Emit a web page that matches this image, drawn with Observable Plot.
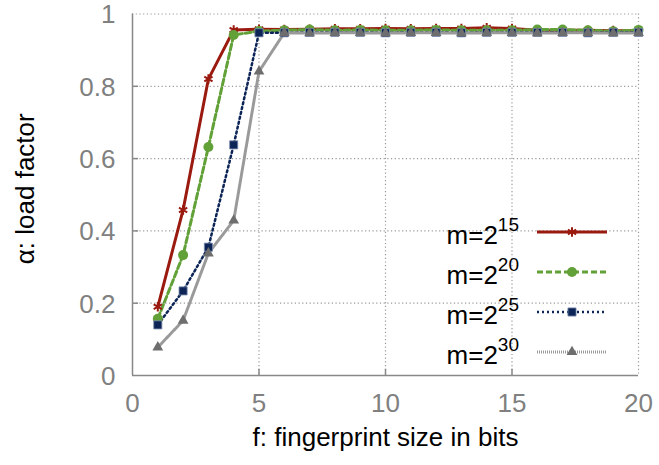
<!DOCTYPE html>
<html><head><meta charset="utf-8">
<script src="https://cdn.jsdelivr.net/npm/d3@7"></script>
<script src="https://cdn.jsdelivr.net/npm/@observablehq/plot@0.6"></script>
<style>
body{margin:0;background:#fff;font-family:"Liberation Sans",Arial,Helvetica,sans-serif;}
#wrap{position:relative;width:659px;height:465px;}
#legend{position:absolute;left:399px;top:212px;}
.row{display:flex;align-items:center;height:40px;}
.lab{width:120px;text-align:right;font-size:26px;color:#000;line-height:26px;padding-top:8px;}
.lab sup{font-size:19px;vertical-align:0;position:relative;top:-13px;}
.row svg{margin-left:17px;}
</style></head>
<body><div id="wrap"><div id="legend"></div></div>
<script>
const f = [1,2,3,4,5,6,7,8,9,10,11,12,13,14,15,16,17,18,19,20];
const m15 = [0.19,0.458,0.82,0.956,0.958,0.957,0.958,0.959,0.959,0.96,0.959,0.96,0.96,0.962,0.96,0.955,0.955,0.955,0.954,0.954];
const m20 = [0.157,0.333,0.632,0.942,0.953,0.955,0.957,0.955,0.956,0.955,0.955,0.956,0.955,0.955,0.955,0.957,0.957,0.955,0.952,0.956];
const m25 = [0.140,0.234,0.355,0.638,0.948,0.948,0.949,0.949,0.949,0.948,0.949,0.949,0.948,0.949,0.949,0.949,0.949,0.948,0.949,0.949];
const m30 = [0.078,0.152,0.338,0.429,0.841,0.948,0.947,0.948,0.948,0.947,0.948,0.948,0.947,0.948,0.948,0.947,0.948,0.948,0.947,0.948];
const seriesNames = ["15","20","25","30"];
const xTicks = [0,5,10,15,20];
const yTicks = [0,0.2,0.4,0.6,0.8,1];

const styles = [
  {color:"#9a1a0f", dash:null, width:3, symbol:"asterisk", r:4.5, fill:false, stroke:"#9a1a0f"},
  {color:"#62a038", dash:"6,3", width:3, symbol:"circle", r:5, fill:true, stroke:"none"},
  {color:"#0c2456", dash:"2,3", width:2.5, symbol:"square", r:4.6, fill:true, stroke:"#8090b0"},
  {color:"#9a9a9a", dash:"1,1", width:3, symbol:"triangle", r:4, fill:true, stroke:"none", mcolor:"#6e6e6e"}
];
const vals = [m15,m20,m25,m30];
const rows = [];
vals.forEach((v,i)=>v.forEach((y,j)=>rows.push({f:f[j], a:y, s:i})));

const dotted = {stroke:"#999", strokeOpacity:1, strokeWidth:1.2, strokeDasharray:"1.2,2.5"};
const marks = [
  Plot.gridX([5,10,15], dotted),
  Plot.gridY([0.2,0.4,0.6,0.8], dotted),
  Plot.ruleY([1], dotted),
  Plot.ruleX([20], dotted),
  Plot.ruleX([5,10,15], {y1:0, y2:0.017, stroke:"#888", strokeWidth:1.5}),
  Plot.ruleY([0.2,0.4,0.6,0.8], {x1:0, x2:0.24, stroke:"#888", strokeWidth:1.5}),
  Plot.ruleX([0], {stroke:"#888", strokeWidth:1.5}),
  Plot.ruleY([0], {stroke:"#888", strokeWidth:1.5}),
  Plot.axisX(xTicks, {tickSize:0, tickPadding:18, fontSize:26, color:"#808080", label:null}),
  Plot.axisY(yTicks, {tickSize:0, tickPadding:17, dy:1, fontSize:26, color:"#808080", label:null, tickFormat:d=>String(d)}),
  Plot.text(["f: fingerprint size in bits"], {frameAnchor:"bottom", dx:0, dy:70, fontSize:26, fill:"#000", textAnchor:"middle"}),
  Plot.text(["α: load factor"], {frameAnchor:"left", dx:-107, dy:-6, rotate:-90, fontSize:26, fill:"#000", textAnchor:"middle"})
];
styles.forEach((st,i)=>{
  const d = rows.filter(r=>r.s===i);
  marks.push(Plot.line(d, {x:"f", y:"a", stroke:st.color, strokeWidth:st.width, strokeDasharray:st.dash}));
});
styles.forEach((st,i)=>{
  const d = rows.filter(r=>r.s===i);
  const mc = st.mcolor || st.color;
  marks.push(Plot.dot(d, {x:"f", y:"a", symbol:()=>st.symbol, r:st.r,
    fill: st.fill ? mc : "none", stroke: st.fill ? st.stroke : mc, strokeWidth: st.fill ? 0.8 : 2}));
});

const chart = Plot.plot({
  width:659, height:465,
  marginLeft:132, marginRight:21, marginTop:13.5, marginBottom:90,
  style:{fontFamily:'"Liberation Sans",Arial,Helvetica,sans-serif', background:"#fff"},
  x:{domain:[0,20]},
  y:{domain:[0,1]},
  symbol:{type:"identity"},
  marks
});
document.getElementById("wrap").prepend(chart);

// legend
const leg = d3.select("#legend");
styles.forEach((st,i)=>{
  const row = leg.append("div").attr("class","row");
  row.append("div").attr("class","lab").html(`m=2<sup>${seriesNames[i]}</sup>`);
  const svg = row.append("svg").attr("width",72).attr("height",20);
  svg.append("line").attr("x1",1).attr("x2",71).attr("y1",10).attr("y2",10)
    .attr("stroke",st.color).attr("stroke-width",st.width).attr("stroke-dasharray",st.dash);
  const symMap = {asterisk:d3.symbolAsterisk, circle:d3.symbolCircle, square:d3.symbolSquare, triangle:d3.symbolTriangle};
  const mc = st.mcolor || st.color;
  svg.append("path").attr("transform","translate(36,10)")
    .attr("d", d3.symbol(symMap[st.symbol], Math.PI*st.r*st.r)())
    .attr("fill", st.fill ? mc : "none").attr("stroke", st.fill ? st.stroke : mc)
    .attr("stroke-width", st.fill ? 0.8 : 2);
});
</script></body></html>
